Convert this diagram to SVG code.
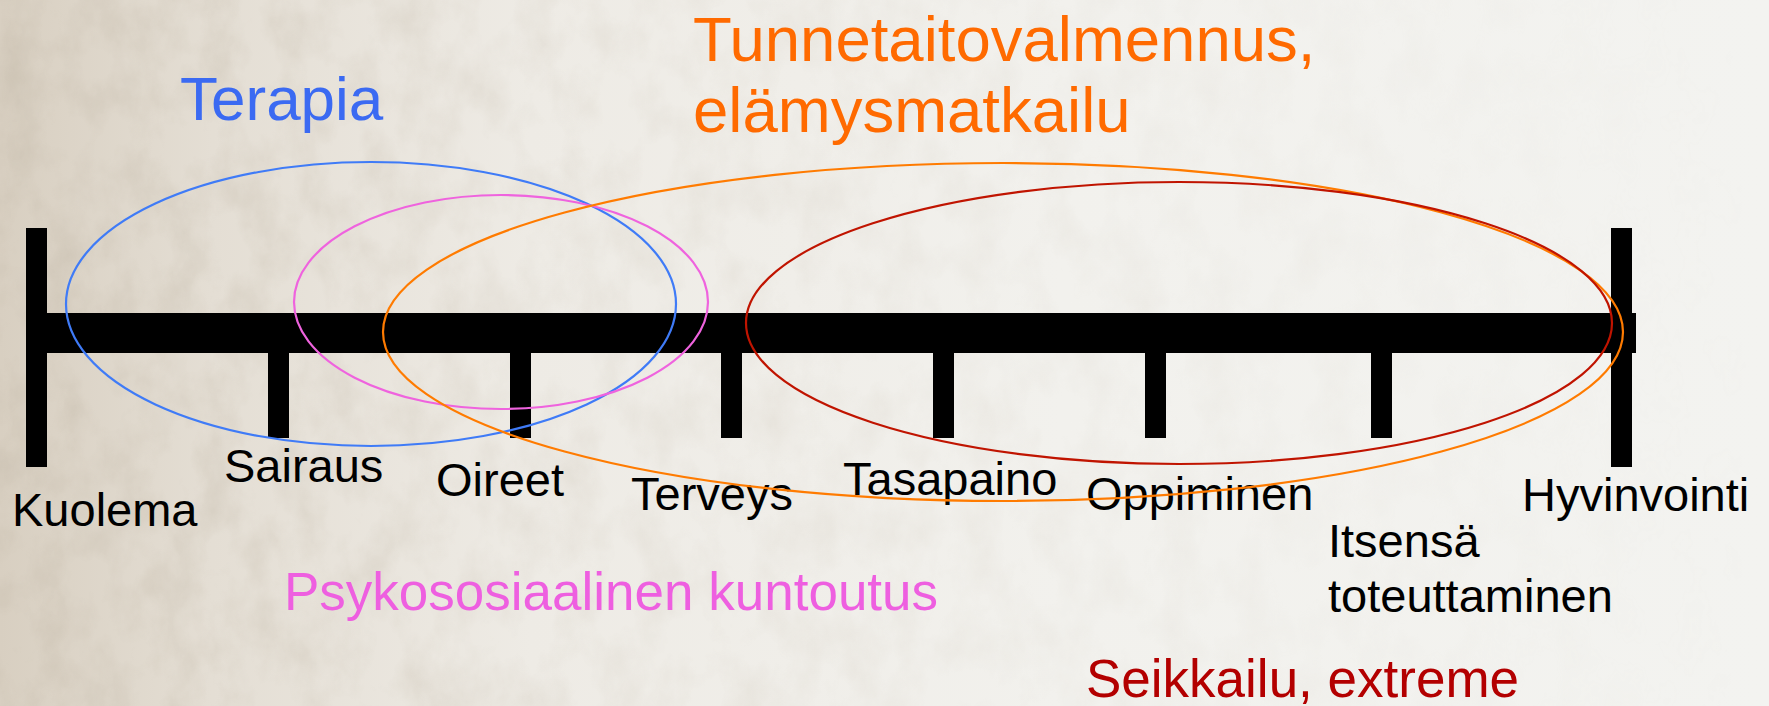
<svg xmlns="http://www.w3.org/2000/svg" width="1769" height="706" viewBox="0 0 1769 706">
  <defs>
    <linearGradient id="paper" x1="0" y1="0" x2="1" y2="0">
      <stop offset="0" stop-color="#d8cfc1"/>
      <stop offset="0.12" stop-color="#e4ded4"/>
      <stop offset="0.3" stop-color="#eeebe5"/>
      <stop offset="0.6" stop-color="#f2f1ed"/>
      <stop offset="1" stop-color="#f3f3f0"/>
    </linearGradient>
    <linearGradient id="shade" x1="0" y1="0" x2="1" y2="0">
      <stop offset="0" stop-color="#fff" stop-opacity="1"/>
      <stop offset="0.3" stop-color="#fff" stop-opacity="0.45"/>
      <stop offset="1" stop-color="#fff" stop-opacity="0"/>
    </linearGradient>
    <mask id="leftFade">
      <rect width="1769" height="706" fill="url(#shade)"/>
    </mask>
    <filter id="grain" x="0" y="0" width="100%" height="100%">
      <feTurbulence type="fractalNoise" baseFrequency="0.025 0.018" numOctaves="5" seed="11"/>
      <feColorMatrix type="matrix" values="0 0 0 0 0.55  0 0 0 0 0.49  0 0 0 0 0.40  0 0 0 -1.8 1.1"/>
    </filter>
    <style>
      .lbl { font-family: "Liberation Sans", Arial, sans-serif; font-size: 47px; fill: #000; }
      .cap { font-family: "Liberation Sans", Arial, sans-serif; }
      .bar { fill: #000; }
      .ring { fill: none; stroke-width: 2.2; }
    </style>
  </defs>

  <!-- paper background -->
  <rect width="1769" height="706" fill="url(#paper)"/>
  <rect width="1769" height="706" filter="url(#grain)" mask="url(#leftFade)" opacity="0.5"/>

  <!-- timeline axis -->
  <g id="timeline">
    <rect class="bar" x="26" y="228" width="21" height="239"/>
    <rect class="bar" x="1611" y="228" width="21" height="239"/>
    <rect class="bar" x="26" y="313" width="1610" height="40"/>
    <rect class="bar" x="268" y="350" width="21" height="88"/>
    <rect class="bar" x="510" y="350" width="21" height="88"/>
    <rect class="bar" x="721" y="350" width="21" height="88"/>
    <rect class="bar" x="933" y="350" width="21" height="88"/>
    <rect class="bar" x="1145" y="350" width="21" height="88"/>
    <rect class="bar" x="1371" y="350" width="21" height="88"/>
  </g>

  <!-- stage labels -->
  <g id="node-kuolema"><text class="lbl" x="12" y="526">Kuolema</text></g>
  <g id="node-sairaus"><text class="lbl" x="224" y="482">Sairaus</text></g>
  <g id="node-oireet"><text class="lbl" x="436" y="496">Oireet</text></g>
  <g id="node-terveys"><text class="lbl" x="631" y="510">Terveys</text></g>
  <g id="node-tasapaino"><text class="lbl" x="843" y="495">Tasapaino</text></g>
  <g id="node-oppiminen"><text class="lbl" x="1086" y="510">Oppiminen</text></g>
  <g id="node-itsensa"><text class="lbl" x="1328" y="557">Itsensä</text><text class="lbl" x="1328" y="612">toteuttaminen</text></g>
  <g id="node-hyvinvointi"><text class="lbl" x="1522" y="511">Hyvinvointi</text></g>

  <!-- ranges covered by each approach -->
  <g id="connectors">
    <ellipse id="range-terapia" class="ring" stroke="#3f7bf7" cx="371" cy="304" rx="305" ry="142"/>
    <ellipse id="range-psykososiaalinen" class="ring" stroke="#ef63de" cx="501" cy="302" rx="207" ry="107"/>
    <ellipse id="range-tunnetaito" class="ring" stroke="#ff7b00" cx="1003" cy="332" rx="620" ry="169"/>
    <ellipse id="range-seikkailu" class="ring" stroke="#c01400" cx="1179" cy="323" rx="433" ry="141"/>
  </g>

  <!-- approach titles -->
  <g id="node-terapia"><text class="cap" x="180" y="120" font-size="62" fill="#3b6af2">Terapia</text></g>
  <g id="node-tunnetaito">
    <text class="cap" x="693" y="61" font-size="63.5" fill="#ff6a00">Tunnetaitovalmennus,</text>
    <text class="cap" x="693" y="132" font-size="63.5" fill="#ff6a00">elämysmatkailu</text>
  </g>
  <g id="node-psykososiaalinen"><text class="cap" x="284" y="610" font-size="53" fill="#ee5fe0">Psykososiaalinen kuntoutus</text></g>
  <g id="node-seikkailu"><text class="cap" x="1086" y="697" font-size="53" fill="#b30000">Seikkailu, extreme</text></g>
</svg>
